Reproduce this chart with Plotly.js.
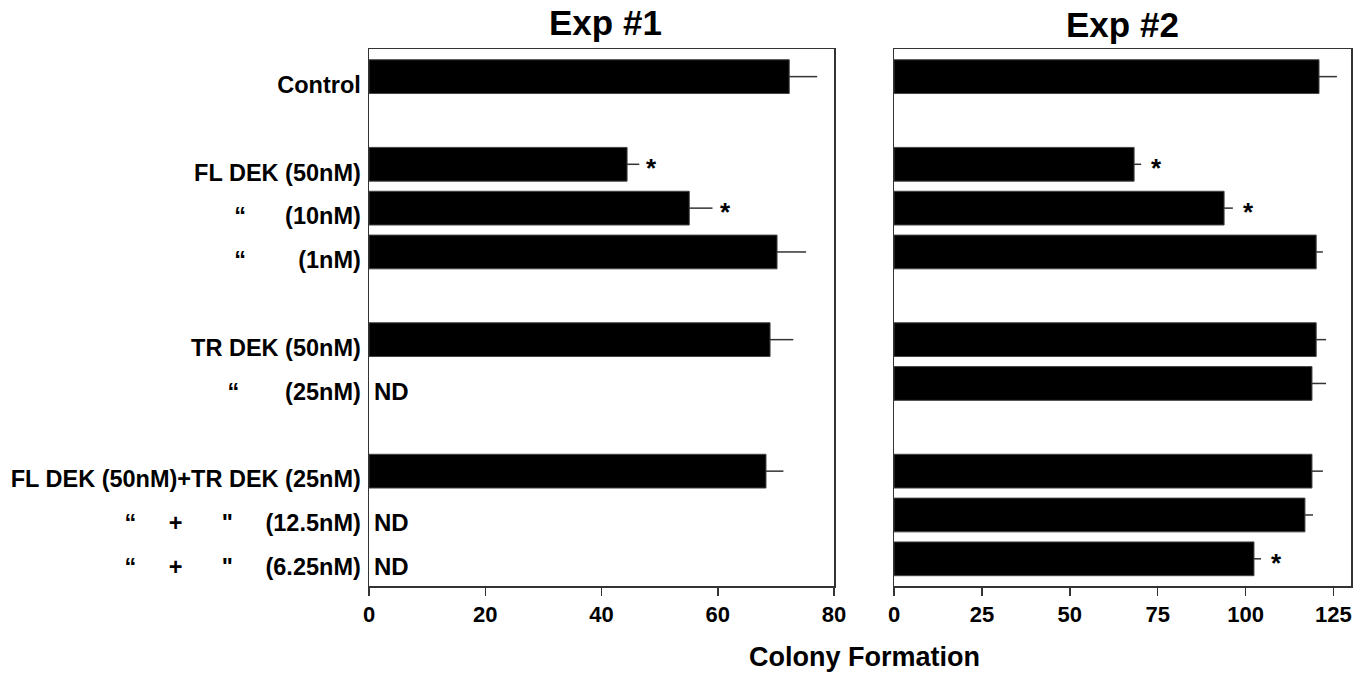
<!DOCTYPE html>
<html>
<head>
<meta charset="utf-8">
<script src="https://cdn.plot.ly/plotly-3.0.1.min.js"></script>
<style>html,body{margin:0;padding:0;background:#fff;}#chart{width:1370px;height:677px;}</style>
</head>
<body>
<div id="chart"></div>
<script>
const S = '\u00A0';
const categories = [
  'Control',
  'FL DEK (50nM)',
  '“' + S.repeat(6) + '(10nM)',
  '“' + S.repeat(8) + '(1nM)',
  'TR DEK (50nM)',
  '“' + S.repeat(7) + '(25nM)',
  'FL DEK (50nM)+TR DEK (25nM)',
  '“' + S.repeat(5) + '+' + S.repeat(6) + '"' + S.repeat(5) + '(12.5nM)',
  '“' + S.repeat(5) + '+' + S.repeat(6) + '"' + S.repeat(5) + '(6.25nM)'
];
const rowPos = [0, 2, 3, 4, 6, 7, 9, 10, 11];
const exp1Values = [72.3, 44.4, 55.1, 70.2, 69.0, null, 68.3, null, null];
const exp1Err    = [4.8, 2.1, 4.0, 5.0, 4.0, 0, 3.0, 0, 0];
const exp2Values = [120.9, 68.3, 93.9, 120.1, 120.1, 118.9, 118.9, 116.9, 102.4];
const exp2Err    = [5.1, 2.0, 2.5, 1.9, 2.8, 4.0, 3.1, 2.3, 2.0];
const exp1Stars = [1, 2];
const exp2Stars = [1, 2, 8];
const exp1ND = [5, 7, 8];
const x1Ticks = [0, 20, 40, 60, 80];
const x2Ticks = [0, 25, 50, 75, 100, 125];
const panelTitles = ['Exp #1', 'Exp #2'];
const xTitle = 'Colony Formation';

const W = 1370, H = 677;
const x1Dom = [369 / W, 834 / W];
const x2Dom = [894 / W, 1351 / W];
const yDom = [1 - 586 / H, 1 - 49 / H];
const fontFam = 'Liberation Sans, Arial, sans-serif';

function errBar(err) {
  return {type: 'data', symmetric: false, array: err, arrayminus: err.map(() => 0),
          color: '#333', thickness: 1.5, width: 0, visible: true};
}

const traces = [
  {type: 'bar', orientation: 'h', x: exp1Values, y: rowPos, xaxis: 'x', yaxis: 'y',
   width: 0.77, marker: {color: '#000', line: {color: '#444', width: 1}},
   error_x: errBar(exp1Err), hoverinfo: 'none'},
  {type: 'bar', orientation: 'h', x: exp2Values, y: rowPos, xaxis: 'x2', yaxis: 'y2',
   width: 0.77, marker: {color: '#000', line: {color: '#444', width: 1}},
   error_x: errBar(exp2Err), hoverinfo: 'none'}
];

const annotations = [];
exp1Stars.forEach(i => annotations.push({xref: 'x', yref: 'y', x: exp1Values[i] + exp1Err[i], y: rowPos[i],
  text: '*', showarrow: false, xanchor: 'left', xshift: 5, yshift: -4, font: {size: 26, weight: 'bold', color: '#000'}}));
exp2Stars.forEach(i => annotations.push({xref: 'x2', yref: 'y2', x: exp2Values[i] + exp2Err[i], y: rowPos[i],
  text: '*', showarrow: false, xanchor: 'left', xshift: 8, yshift: -4, font: {size: 26, weight: 'bold', color: '#000'}}));
exp1ND.forEach(i => annotations.push({xref: 'x', yref: 'y', x: 0, y: rowPos[i],
  text: 'ND', showarrow: false, xanchor: 'left', xshift: 3, yshift: -8, font: {size: 24, weight: 'bold', color: '#000'}}));
annotations.push({xref: 'paper', yref: 'paper', x: (x1Dom[0] + x1Dom[1]) / 2 + 4 / W, y: 1 - 22 / H, text: panelTitles[0],
  showarrow: false, xanchor: 'center', yanchor: 'middle', font: {size: 35, weight: 'bold', color: '#000'}});
annotations.push({xref: 'paper', yref: 'paper', x: (x2Dom[0] + x2Dom[1]) / 2, y: 1 - 24 / H, text: panelTitles[1],
  showarrow: false, xanchor: 'center', yanchor: 'middle', font: {size: 35, weight: 'bold', color: '#000'}});
annotations.push({xref: 'paper', yref: 'paper', x: 864 / W, y: 1 - 657 / H, text: xTitle,
  showarrow: false, xanchor: 'center', yanchor: 'middle', font: {size: 27, weight: 'bold', color: '#000'}});

const axCommon = {showline: true, mirror: true, linecolor: '#333', linewidth: 1.5, showgrid: false, zeroline: false,
  ticks: 'outside', ticklen: 8, tickwidth: 1.5, tickcolor: '#333', tickfont: {size: 22, weight: 'bold', color: '#000'}, fixedrange: true};

const layout = {
  width: W, height: H,
  margin: {l: 0, r: 0, t: 0, b: 0},
  paper_bgcolor: '#fff', plot_bgcolor: '#fff',
  font: {family: fontFam, color: '#000'},
  showlegend: false,
  xaxis: Object.assign({}, axCommon, {domain: x1Dom, range: [0, 80], tickvals: x1Ticks, anchor: 'y'}),
  xaxis2: Object.assign({}, axCommon, {domain: x2Dom, range: [0, 130], tickvals: x2Ticks, anchor: 'y2'}),
  yaxis: Object.assign({}, axCommon, {domain: yDom, range: [11.62, -0.63], tickvals: rowPos, ticktext: categories,
    ticks: '', ticklabelstandoff: 2, ticklabelshift: -8, tickfont: {size: 23.5, weight: 'bold', color: '#000'}, anchor: 'x'}),
  yaxis2: Object.assign({}, axCommon, {domain: yDom, range: [11.62, -0.63], tickvals: rowPos, showticklabels: false,
    ticks: '', anchor: 'x2'}),
  annotations: annotations
};

Plotly.newPlot('chart', traces, layout, {displayModeBar: false, staticPlot: true});
</script>
</body>
</html>
